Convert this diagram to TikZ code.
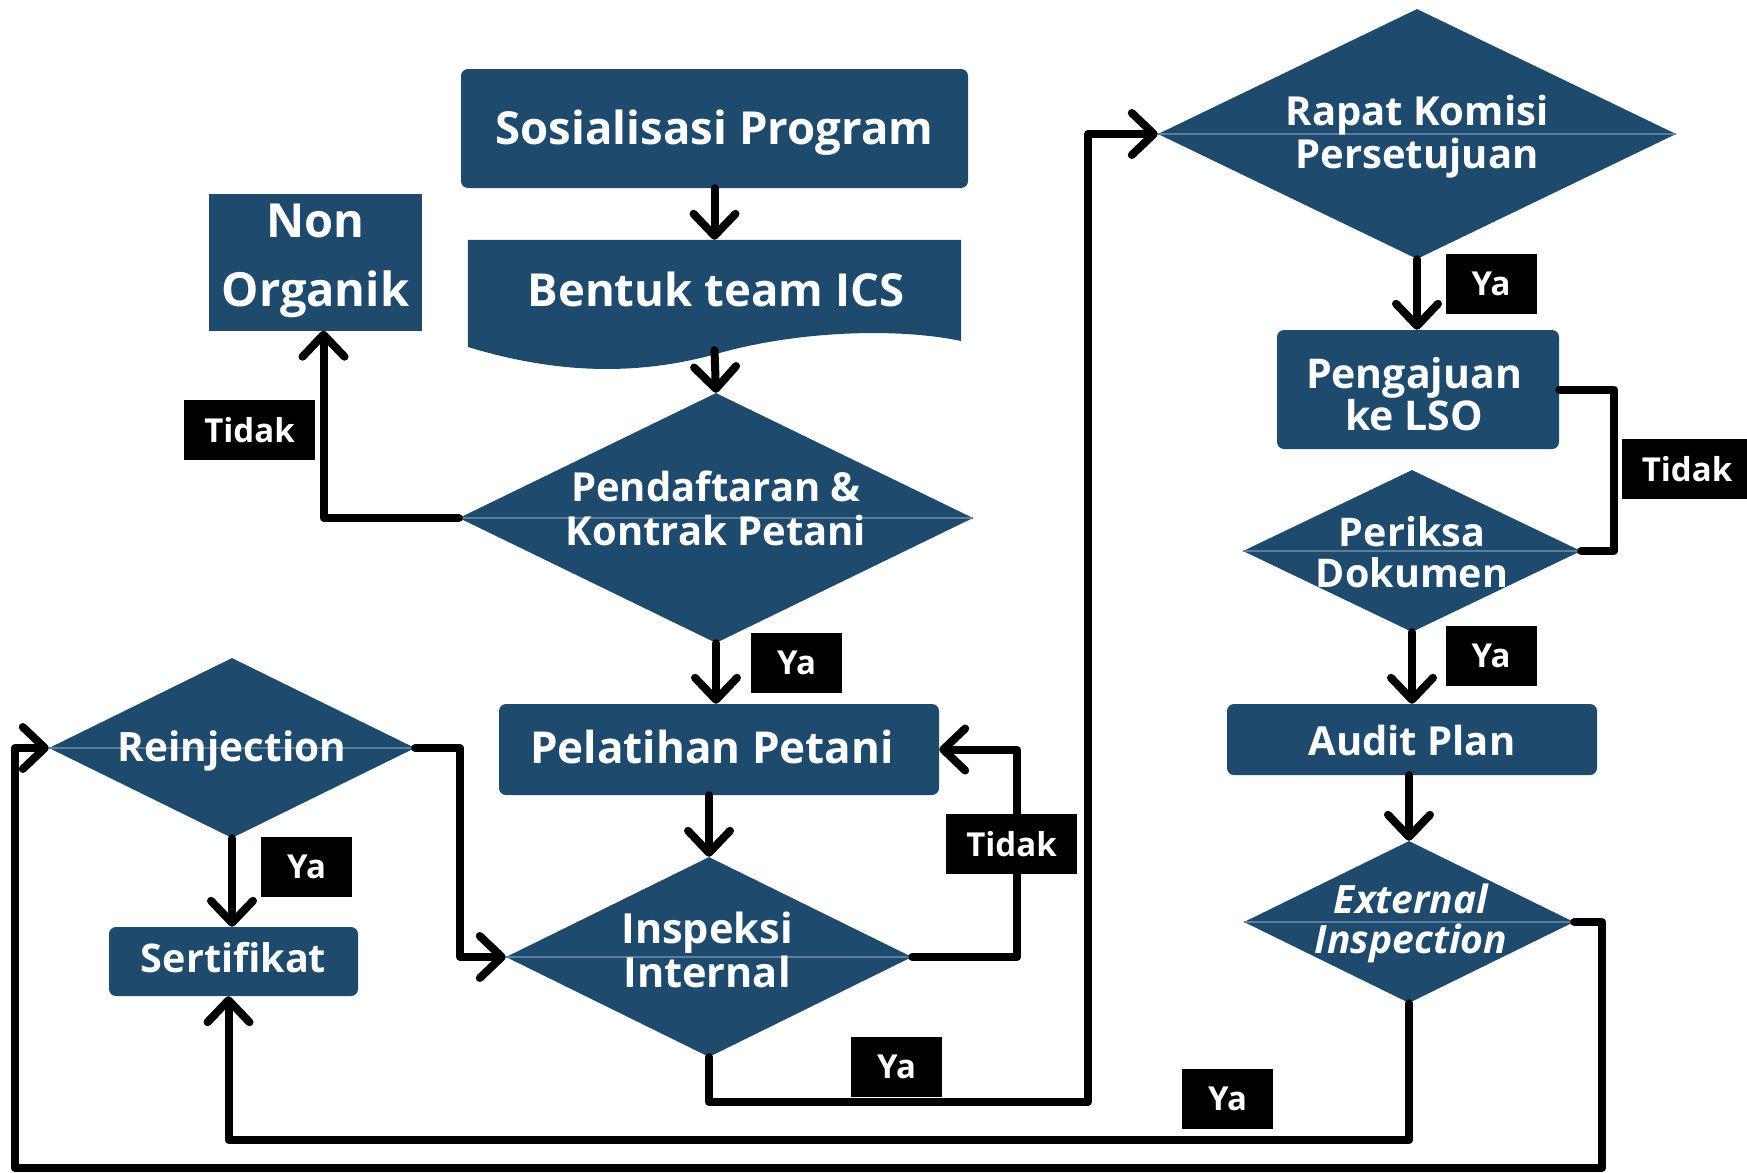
\documentclass[tikz,border=0pt]{standalone}
\usepackage{fontspec}
\setmainfont{Open Sans}
\usetikzlibrary{arrows.meta,shapes.geometric}
\definecolor{boxblue}{HTML}{1E4A6E}
\definecolor{midblue}{HTML}{5A7E9B}
\tikzset{
  procbox/.style={fill=boxblue, rounded corners=7pt, inner sep=0pt},
  squarebox/.style={fill=boxblue, inner sep=0pt},
  dia/.style={diamond, fill=boxblue, inner sep=0pt},
  wtxt/.style={text=white, align=center, inner sep=0pt},
  lbl/.style={fill=black, text=white, font=\fontsize{33}{36}\selectfont\bfseries, inner sep=0pt, minimum height=60pt},
  conn/.style={line width=8pt, line join=round, line cap=round},
  arr/.style={conn, -{Straight Barb[length=22pt, width=42pt, round]}},
  midln/.style={draw=midblue, line width=1.2pt}
}
\begin{document}
\begin{tikzpicture}[x=1pt,y=-1pt]
\useasboundingbox (0,0) rectangle (1747,1172);
\fill[white] (0,0) rectangle (1747,1172);

% ---------- process boxes ----------
\node[procbox, minimum width=507pt, minimum height=119pt] (sos) at (714.5,128.5) {};
\node[wtxt, font=\fontsize{45.5}{50}\selectfont\bfseries] (sost) at (714.5,133) {Sosialisasi Program};

\node[minimum width=493pt, minimum height=110pt, inner sep=0pt] (bentuk) at (714.5,295) {};
\fill[boxblue] (bentuk.north west) -- (bentuk.north east) -- (961,341)
  .. controls (900,328) and (800,330) .. (716,354)
  .. controls (640,375) and (560,375) .. (468,347) -- cycle;
\node[wtxt, font=\fontsize{45.5}{50}\selectfont\bfseries] (bentukt) at (716,289) {Bentuk team ICS};

\node[squarebox, minimum width=213pt, minimum height=137pt] (nonorg) at (315.5,262) {};
\node[wtxt, font=\fontsize{47}{69}\selectfont\bfseries] (nonorgt) at (315.5,261) {Non\\Organik};

\node[procbox, minimum width=440pt, minimum height=91pt] (pel) at (719,749.5) {};
\node[wtxt, font=\fontsize{44}{50}\selectfont\bfseries] (pelt) at (712,747) {Pelatihan Petani};

\node[procbox, minimum width=249pt, minimum height=69pt] (sert) at (233.5,961.5) {};
\node[wtxt, font=\fontsize{39.5}{44}\selectfont\bfseries] (sertt) at (233.5,958) {Sertifikat};

\node[procbox, minimum width=282pt, minimum height=119pt] (peng) at (1418,389.5) {};
\node[wtxt, font=\fontsize{41}{42}\selectfont\bfseries] (pengt) at (1414,394) {Pengajuan\\ke LSO};

\node[procbox, minimum width=370pt, minimum height=71pt] (audit) at (1412,739.5) {};
\node[wtxt, font=\fontsize{40}{44}\selectfont\bfseries] (auditt) at (1412,740) {Audit Plan};

% ---------- decision diamonds ----------
\node[dia, minimum width=514pt, minimum height=250pt] (pd) at (716,518) {};
\draw[midln] (pd.west) -- (pd.east);
\node[wtxt, font=\fontsize{40}{44}\selectfont\bfseries] (pdt) at (716,508) {Pendaftaran \&\\Kontrak Petani};

\node[dia, minimum width=366pt, minimum height=180pt] (rj) at (232,748) {};
\draw[midln] (rj.west) -- (rj.east);
\node[wtxt, font=\fontsize{40.5}{44}\selectfont\bfseries] (rjt) at (232,751) {Reinjection};

\node[dia, minimum width=406pt, minimum height=200pt] (ii) at (709,957) {};
\draw[midln] (ii.west) -- (ii.east);
\node[wtxt, font=\fontsize{41.5}{44}\selectfont\bfseries] (iit) at (707,950) {Inspeksi\\Internal};

\node[dia, minimum width=518pt, minimum height=250pt] (rk) at (1417,134) {};
\draw[midln] (rk.west) -- (rk.east);
\node[wtxt, font=\fontsize{40}{43}\selectfont\bfseries] (rkt) at (1417,137) {Rapat Komisi\\Persetujuan};

\node[dia, minimum width=338pt, minimum height=162pt] (pk) at (1412,551) {};
\draw[midln] (pk.west) -- (pk.east);
\node[wtxt, font=\fontsize{39.5}{41}\selectfont\bfseries] (pkt) at (1412,552) {Periksa\\Dokumen};

\node[dia, minimum width=330pt, minimum height=162pt] (ei) at (1409,922) {};
\draw[midln] (ei.west) -- (ei.east);
\node[wtxt, font=\fontsize{39}{40}\selectfont\bfseries\itshape] (eit) at (1411,923) {External\\Inspection};

% ---------- helper coordinates ----------
\coordinate (ybotA) at (0,1102);
\coordinate (xmid) at (1088,0);
\coordinate (ybotB) at (0,1140);
\coordinate (outerBL) at (15,1168);

% ---------- connectors ----------
\draw[arr] (sos.south) -- (bentuk.north);
\draw[arr] (bentuk.south) -- (pd.north);
\draw[arr] (pd.west) -| ([xshift=8pt]nonorg.south);
\draw[arr] (pd.south) -- (pd.south |- pel.north);
\draw[arr] (ii.north |- pel.south) -- (ii.north);
\draw[arr] (ii.east) -- ++(105,0) |- (pel.east);
\draw[arr] (ii.south) -- (ii.south |- ybotA) -| (xmid |- rk.west) -- (rk.west);
\draw[arr] (rk.south) -- (rk.south |- peng.north);
\draw[conn] (peng.east) -- ++(55,0) |- (pk.east);
\draw[arr] (pk.south) -- (pk.south |- audit.north);
\draw[arr] (audit.south -| ei.north) -- (ei.north);
\draw[arr] (ei.south) -- (ei.south |- ybotB) -| ([xshift=-5pt]sert.south);
\draw[arr] (ei.east) -- ++(28,0) |- (outerBL) |- (rj.west);
\draw[arr] (rj.east) -- ++(45,0) |- (ii.west);
\draw[arr] (rj.south) -- (rj.south |- sert.north);

% ---------- labels ----------
\node[lbl, minimum width=131pt] (l1) at (249.5,430) {Tidak};
\node[lbl, minimum width=131pt] (l2) at (1011.5,844) {Tidak};
\node[lbl, minimum width=131pt] (l3) at (1687,469) {Tidak};
\node[lbl, minimum width=91pt] (l4) at (796.5,663) {Ya};
\node[lbl, minimum width=91pt] (l5) at (306.5,867) {Ya};
\node[lbl, minimum width=91pt] (l6) at (896.5,1066.5) {Ya};
\node[lbl, minimum width=91pt] (l7) at (1491,284) {Ya};
\node[lbl, minimum width=91pt] (l8) at (1491,655.5) {Ya};
\node[lbl, minimum width=91pt] (l9) at (1227.5,1099) {Ya};
\end{tikzpicture}
\end{document}
